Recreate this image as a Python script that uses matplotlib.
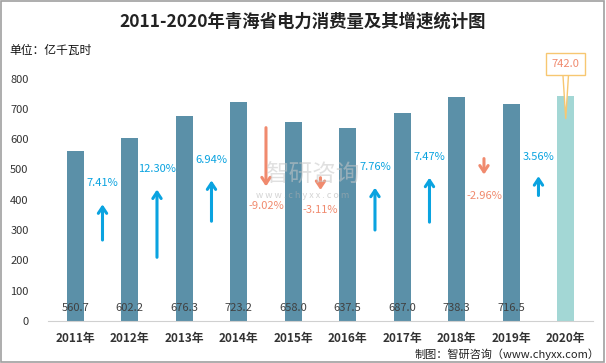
import matplotlib
matplotlib.use("Agg")
import matplotlib.pyplot as plt
from matplotlib.patches import Rectangle

plt.rcParams['font.family'] = ['Noto Sans CJK SC', 'DejaVu Sans']

years = ["2011年", "2012年", "2013年", "2014年", "2015年", "2016年", "2017年", "2018年", "2019年", "2020年"]
consumption = [560.7, 602.2, 676.3, 723.2, 658.0, 637.5, 687.0, 738.3, 716.5, 742.0]
growth = ["7.41%", "12.30%", "6.94%", "-9.02%", "-3.11%", "7.76%", "7.47%", "-2.96%", "3.56%"]
arrow_base = [258, 201, 320, 647, 482, 291, 317, 545, 405]
arrow_tip = [394, 443, 473, 435, 423, 449, 482, 474, 487]
label_y = [455, 502, 531, 380, 366, 508, 540, 413, 542]

BAR = "#5B90A8"
BAR_LAST = "#A3D7D5"
UP = "#0AA3E0"
DOWN = "#F08A6E"

fig = plt.figure(figsize=(6.06, 3.63), dpi=100)
fig.patches.append(Rectangle((0.002, 0.003), 0.995, 0.994, transform=fig.transFigure,
                             fill=False, ec="#A0A0A0", lw=1.2))
ax = fig.add_axes([0.0792, 0.1157, 0.8993, 0.668])
x = list(range(len(years)))
colors = [BAR] * (len(years) - 1) + [BAR_LAST]
ax.bar(x, consumption, width=0.31, color=colors, zorder=2)
ax.set_xlim(-0.5, len(years) - 0.5)
ax.set_ylim(0, 800)
ax.set_yticks(range(0, 801, 100))
for s in ["left", "right", "top"]:
    ax.spines[s].set_visible(False)
ax.spines["bottom"].set_color("#D0D0D0")
ax.tick_params(axis="both", length=0, colors="#333333")
ax.tick_params(axis="y", labelsize=8, pad=14)
ax.set_xticks(x)
ax.set_xticklabels(years, fontsize=8.5, fontweight="bold", color="#333333")
ax.tick_params(axis="x", pad=8)

for i, v in enumerate(consumption[:-1]):
    ax.text(i, 43, f"{v:.1f}", ha="center", va="center", fontsize=8, color="#404040", zorder=3)

for i, g in enumerate(growth):
    xp = i + 0.5
    c = DOWN if g.startswith("-") else UP
    ax.annotate("", xy=(xp, arrow_tip[i]), xytext=(xp, arrow_base[i]),
                arrowprops=dict(arrowstyle="->,head_length=0.45,head_width=0.3", color=c, lw=2.2),
                zorder=3)
    ax.text(xp, label_y[i], g, ha="center", va="center", fontsize=8, color=c, zorder=4)

# callout for last value
ax.annotate(f"{consumption[-1]:.1f}", xy=(9, 668), xytext=(9, 848),
            ha="center", va="center", fontsize=8, color=DOWN, annotation_clip=False,
            bbox=dict(boxstyle="square,pad=0.5", fc="white", ec="#F7C771", lw=1),
            arrowprops=dict(arrowstyle="wedge,tail_width=0.5,shrink_factor=0.5", fc="white",
                            ec="#F7C771", lw=1, shrinkA=0, shrinkB=0),
            zorder=5)

# watermark
fig.text(0.515, 0.518, "智研咨询", fontsize=17, color="#C8C8C8", alpha=0.55, ha="center", va="center", zorder=1)
fig.text(0.5, 0.462, "w w w . c h y x x . c o m", fontsize=6.5, color="#B0B0B0", alpha=0.55, ha="center", va="center", zorder=1)

fig.text(0.5, 0.94, "2011-2020年青海省电力消费量及其增速统计图", ha="center", va="center",
         fontsize=12.5, fontweight="bold", color="#222222")
fig.text(0.016, 0.862, "单位：亿千瓦时", ha="left", va="center", fontsize=8.5, color="#111111")
fig.text(0.99, 0.025, "制图：智研咨询（www.chyxx.com）", ha="right", va="center", fontsize=8, color="#222222")

fig.savefig("out.png", dpi=100)
